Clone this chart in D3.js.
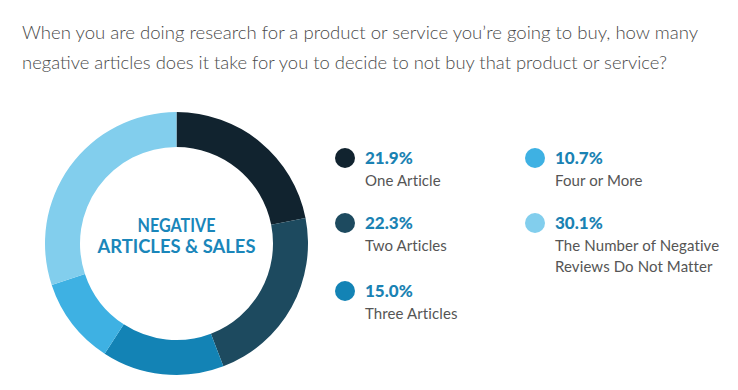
<!DOCTYPE html>
<html><head><meta charset="utf-8">
<script src="https://cdn.jsdelivr.net/npm/d3@7"></script>
<style>body{margin:0;background:#fff;}svg{display:block;}</style>
</head><body>
<script>
const categories = ["One Article","Two Articles","Three Articles","Four or More","The Number of Negative|Reviews Do Not Matter"];
const values = [21.9, 22.3, 15.0, 10.7, 30.1];
const colors = ["#11232f","#1d4a5f","#1383b5","#3eb1e3","#82ceed"];
const titleLines = ["When you are doing research for a product or service you\u2019re going to buy, how many","negative articles does it take for you to decide to not buy that product or service?"];
const centerLines = ["NEGATIVE","ARTICLES & SALES"];

const W=738,H=390;
const svg=d3.select("body").append("svg").attr("width",W).attr("height",H);

const titleLen=[676,645];
svg.selectAll("text.title").data(titleLines).join("text").attr("class","title")
 .attr("x",22).attr("y",(d,i)=>39+i*30)
 .attr("font-family","Lato").attr("font-weight",300).attr("font-size",18).attr("fill","#4a4a4a")
 .attr("textLength",(d,i)=>titleLen[i]).attr("lengthAdjust","spacingAndGlyphs")
 .text(d=>d);

const cx=176.5, cy=243.5, R=131.5, r=96.5;
const pie=d3.pie().sort(null).value(d=>d);
const arc=d3.arc().innerRadius(r).outerRadius(R);
const g=svg.append("g").attr("transform",`translate(${cx},${cy})`);
g.selectAll("path").data(pie(values)).join("path").attr("d",arc).attr("fill",(d,i)=>colors[i]);

const centerLen=[78,158];
g.selectAll("text.c").data(centerLines).join("text").attr("class","c")
 .attr("text-anchor","middle").attr("y",(d,i)=>-11.5+i*21)
 .attr("font-family","Lato").attr("font-weight",700).attr("font-size",19).attr("fill","#1a86ba")
 .attr("textLength",(d,i)=>centerLen[i]).attr("lengthAdjust","spacingAndGlyphs")
 .text(d=>d);

const pos=[[345,158],[345,223],[345,291],[535,158],[535,223]];
const lg=svg.append("g");
const items=lg.selectAll("g").data(values).join("g").attr("transform",(d,i)=>`translate(${pos[i][0]},${pos[i][1]})`);
items.append("circle").attr("r",10).attr("fill",(d,i)=>colors[i]);
items.append("text").attr("x",20).attr("y",6).attr("font-family","Lato").attr("font-weight",900).attr("font-size",17).attr("fill","#1a82b3")
 .text(d=>d.toFixed(1)+"%");
items.each(function(d,i){
  const lines=categories[i].split("|");
  d3.select(this).selectAll("text.l").data(lines).join("text").attr("class","l")
   .attr("x",20).attr("y",(l,j)=>28+j*21)
   .attr("font-family","Lato").attr("font-weight",400).attr("font-size",15).attr("fill","#555")
   .attr("letter-spacing",0.1)
   .text(l=>l);
});
</script>
</body></html>
